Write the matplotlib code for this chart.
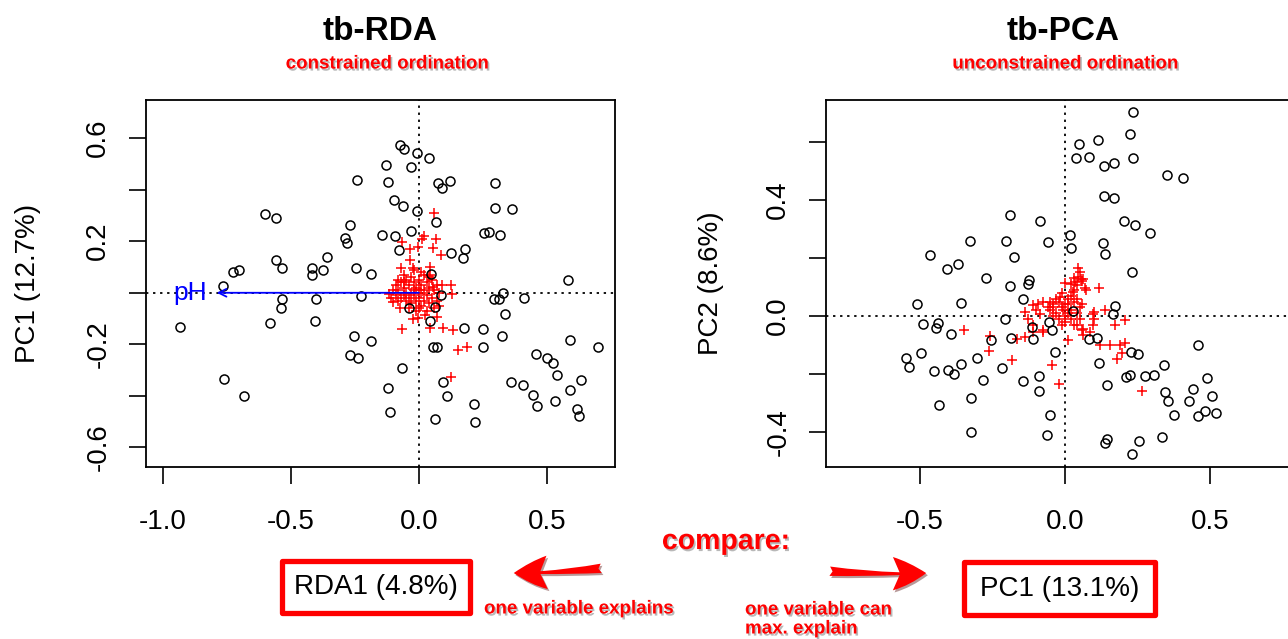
import matplotlib
matplotlib.use("Agg")
import matplotlib.pyplot as plt
import matplotlib.patheffects as pe
from matplotlib.patches import Rectangle, FancyArrowPatch
import numpy as np

plt.rcParams['font.family'] = ['Liberation Sans', 'DejaVu Sans']
plt.rcParams['axes.unicode_minus'] = False

# ---- data ----
rda_sites = [
    (-0.072, 0.574), (-0.057, 0.558), (-0.007, 0.541), (0.038, 0.523), (-0.129, 0.494), (-0.029, 0.487),
    (-0.242, 0.439), (-0.120, 0.429), (0.073, 0.425), (0.120, 0.434), (0.092, 0.405), (0.299, 0.427),
    (-0.099, 0.361), (-0.061, 0.338), (-0.009, 0.317), (0.299, 0.330), (0.363, 0.325), (-0.600, 0.304),
    (-0.557, 0.290), (0.066, 0.273), (-0.268, 0.263), (-0.029, 0.238), (-0.143, 0.225), (-0.094, 0.220),
    (-0.289, 0.214), (-0.280, 0.193), (0.254, 0.232), (0.275, 0.236), (0.316, 0.225), (-0.077, 0.166),
    (0.125, 0.153), (0.181, 0.170), (0.172, 0.135), (-0.557, 0.128), (-0.534, 0.096), (-0.358, 0.140),
    (-0.727, 0.079), (-0.702, 0.088), (-0.417, 0.098), (-0.419, 0.069), (-0.376, 0.088), (-0.246, 0.097),
    (-0.186, 0.071), (0.047, 0.074), (-0.766, 0.027), (0.583, 0.051), (0.086, -0.010), (0.327, -0.001),
    (0.293, -0.025), (0.314, -0.025), (0.411, -0.021), (-0.536, -0.023), (-0.401, -0.025), (-0.227, -0.014),
    (-0.540, -0.060), (-0.040, -0.061), (0.063, -0.056), (-0.934, -0.133), (-0.582, -0.117), (-0.404, -0.108),
    (0.043, -0.110), (0.337, -0.084), (0.177, -0.135), (0.250, -0.142), (0.324, -0.166), (-0.254, -0.166),
    (-0.189, -0.188), (0.056, -0.212), (0.069, -0.212), (0.250, -0.212), (0.591, -0.184), (0.698, -0.211),
    (-0.270, -0.241), (-0.237, -0.255), (0.456, -0.237), (0.500, -0.253), (0.522, -0.273), (0.540, -0.320),
    (-0.066, -0.290), (-0.762, -0.333), (-0.122, -0.368), (0.094, -0.346), (0.361, -0.346), (0.408, -0.358),
    (0.632, -0.338), (0.591, -0.378), (-0.684, -0.399), (0.108, -0.399), (0.445, -0.396), (0.460, -0.440),
    (0.531, -0.421), (0.217, -0.431), (-0.111, -0.461), (0.061, -0.488), (0.219, -0.503), (0.618, -0.452),
    (0.626, -0.478)]

rda_species = [
    (0.060, 0.309), (0.021, 0.220), (0.013, 0.208), (0.065, 0.208), (-0.066, 0.198), (-0.035, 0.170),
    (-0.003, 0.177), (0.056, 0.172), (0.086, 0.145), (-0.035, 0.126), (-0.070, 0.095), (-0.022, 0.095),
    (0.043, 0.101), (0.125, 0.032), (0.128, -0.006), (-0.116, -0.005), (-0.100, -0.035), (-0.065, -0.139),
    (0.096, -0.135), (0.134, -0.145), (0.154, -0.223), (0.186, -0.211), (0.124, -0.326), (0.069, -0.093),
    (0.043, -0.135), (-0.025, -0.102), (-0.003, -0.097), (0.025, -0.087), (-0.074, -0.061),
    (0.043, 0.069), (0.056, 0.023), (-0.09, 0.03), (-0.08, 0.01), (-0.07, 0.04), (-0.06, 0.02),
    (-0.05, 0.05), (-0.04, 0.03), (-0.03, 0.06), (-0.02, 0.04), (-0.01, 0.02), (0.00, 0.05), (0.01, 0.03),
    (0.02, 0.07), (0.03, 0.04), (0.04, 0.02), (0.05, 0.05), (0.06, 0.01), (-0.10, 0.01), (-0.09, -0.01),
    (-0.08, -0.03), (-0.07, -0.02), (-0.06, -0.01), (-0.05, -0.03), (-0.04, -0.02), (-0.03, -0.04),
    (-0.02, -0.01), (-0.01, -0.03), (0.00, -0.02), (0.01, -0.05), (0.02, -0.03), (0.03, -0.01),
    (0.04, -0.04), (0.05, -0.02), (0.07, -0.03), (0.08, 0.00), (0.07, 0.03), (-0.11, -0.02),
    (-0.06, 0.07), (-0.02, 0.09), (0.01, 0.08), (-0.04, -0.06), (0.00, -0.06), (0.03, -0.07),
    (0.06, -0.06), (-0.08, 0.05), (-0.05, 0.00), (-0.02, 0.01), (0.01, 0.00), (0.02, 0.01),
    (-0.03, 0.00), (0.00, 0.01), (-0.06, 0.04), (0.04, 0.06), (-0.01, -0.07), (0.09, 0.03), (0.08, -0.05)]

ph_arrow = (-0.79, 0.0)
ph_label_x = -0.895

pca_sites = [
    (0.235, 0.701), (0.224, 0.628), (0.048, 0.594), (0.115, 0.605), (0.036, 0.543), (0.084, 0.549),
    (0.134, 0.515), (0.170, 0.528), (0.233, 0.544), (0.349, 0.484), (0.404, 0.477), (0.135, 0.414),
    (0.169, 0.408), (-0.190, 0.348), (-0.086, 0.328), (0.202, 0.328), (0.241, 0.314), (0.291, 0.286),
    (0.017, 0.280), (-0.328, 0.257), (-0.204, 0.257), (-0.057, 0.255), (0.130, 0.252), (0.022, 0.233),
    (0.138, 0.213), (-0.466, 0.211), (-0.407, 0.162), (-0.367, 0.180), (-0.174, 0.202), (0.229, 0.152),
    (-0.271, 0.130), (-0.188, 0.102), (-0.123, 0.125), (-0.128, 0.110), (-0.146, 0.060), (-0.509, 0.041),
    (-0.358, 0.044), (0.173, 0.036), (0.166, 0.006), (0.029, 0.018), (-0.208, -0.011), (-0.489, -0.029),
    (-0.437, -0.025), (-0.444, -0.040), (-0.392, -0.061), (-0.112, -0.038), (-0.056, -0.022), (-0.044, -0.049),
    (-0.256, -0.084), (-0.187, -0.076), (-0.109, -0.079), (0.081, -0.079), (0.111, -0.077), (-0.547, -0.143),
    (-0.538, -0.176), (-0.497, -0.126), (-0.452, -0.190), (-0.401, -0.186), (-0.381, -0.201), (-0.357, -0.166),
    (-0.304, -0.145), (-0.217, -0.180), (-0.281, -0.221), (-0.034, -0.125), (-0.143, -0.225), (-0.089, -0.205),
    (-0.088, -0.257), (0.116, -0.163), (0.226, -0.125), (0.252, -0.132), (0.146, -0.236), (0.209, -0.209),
    (0.224, -0.203), (0.275, -0.207), (0.306, -0.203), (0.339, -0.167), (0.458, -0.099), (0.487, -0.213),
    (0.440, -0.251), (0.345, -0.263), (0.353, -0.293), (0.425, -0.292), (0.505, -0.276), (0.375, -0.340),
    (0.458, -0.343), (0.482, -0.326), (0.519, -0.334), (-0.432, -0.305), (-0.325, -0.282), (-0.322, -0.399),
    (-0.052, -0.340), (-0.062, -0.409), (0.146, -0.422), (0.138, -0.437), (0.253, -0.432), (0.335, -0.418),
    (0.229, -0.476)]

pca_species = [
    (0.044, 0.166), (0.055, 0.129), (0.040, 0.106), (0.000, 0.114), (0.118, 0.098), (0.072, 0.089),
    (0.029, 0.083), (-0.017, 0.066), (-0.109, 0.037), (-0.075, 0.048), (-0.138, 0.014), (-0.126, -0.009),
    (-0.040, 0.031), (-0.006, 0.020), (0.138, 0.020), (0.097, 0.008), (0.206, -0.012), (0.172, -0.032),
    (0.063, -0.043), (0.086, -0.055), (0.063, -0.067), (0.011, -0.084), (-0.075, -0.055), (-0.109, -0.055),
    (-0.138, -0.072), (-0.166, -0.078), (0.120, -0.101), (0.155, -0.101), (0.189, -0.101), (0.206, -0.093),
    (0.195, -0.128), (0.178, -0.147), (-0.046, -0.170), (-0.183, -0.153), (-0.347, -0.049), (-0.258, -0.070),
    (-0.260, -0.122), (-0.021, -0.234), (0.264, -0.259), (0.046, 0.134), (0.063, 0.129), (0.034, 0.117),
    (0.069, 0.097), (-0.092, 0.043), (-0.100, 0.020), (-0.086, 0.008), (-0.052, 0.048), (0.100, 0.014),
    (0.100, -0.009), (0.095, -0.032), (0.057, -0.049), (0.040, -0.032), (-0.077, -0.047), (-0.109, -0.032),
    (-0.05, 0.02), (-0.04, 0.04), (-0.03, 0.01), (-0.02, 0.05), (-0.01, 0.03), (0.00, 0.00), (0.01, 0.04),
    (0.02, 0.02), (0.03, 0.05), (0.04, 0.01), (0.05, 0.03), (0.02, 0.07), (0.01, 0.06), (-0.02, -0.01),
    (0.00, -0.02), (0.02, -0.01), (0.03, -0.03), (-0.04, 0.00), (-0.01, 0.08), (0.04, 0.06), (0.05, -0.01),
    (-0.03, 0.06), (0.01, 0.01), (-0.01, -0.03), (0.03, 0.09), (0.06, 0.04), (-0.06, 0.03), (0.00, 0.04),
    (0.02, 0.11), (0.05, 0.15), (0.06, 0.12), (0.03, 0.13)]

rda_xticks = [-1.0, -0.5, 0.0, 0.5]
rda_yticks = [-0.6, -0.4, -0.2, 0.0, 0.2, 0.4, 0.6]
rda_ylabels = ['-0.6', '', '-0.2', '', '0.2', '', '0.6']
pca_xticks = [-0.5, 0.0, 0.5]
pca_yticks = [-0.4, -0.2, 0.0, 0.2, 0.4, 0.6]
pca_ylabels = ['-0.4', '', '0.0', '', '0.4', '']

W, H = 1288, 639
fig = plt.figure(figsize=(W / 100, H / 100), dpi=100)

def px(x, y):
    return x / W, 1 - y / H

def ordi(ax, sites, species, xticks, yticks, ylabels, xlim, ylim):
    s = np.array(sites)
    sp = np.array(species)
    ax.axhline(0, color='black', lw=1.3, dashes=(1.3, 2.6), zorder=1)
    ax.axvline(0, color='black', lw=1.3, dashes=(1.3, 2.6), zorder=1)
    ax.plot(sp[:, 0], sp[:, 1], '+', color='red', ms=6.5, mew=1.1, zorder=3)
    ax.plot(s[:, 0], s[:, 1], 'o', mfc='none', mec='black', ms=6.5, mew=1.1, zorder=4)
    ax.set_xlim(xlim)
    ax.set_ylim(ylim)
    ax.set_xticks(xticks)
    ax.set_xticklabels(['%.1f' % t for t in xticks])
    ax.set_yticks(yticks)
    ax.set_yticklabels(ylabels, rotation=90, va='center')
    ax.tick_params(axis='both', direction='out', length=12, width=1.2, labelsize=20)
    ax.tick_params(axis='x', pad=18)
    ax.tick_params(axis='y', pad=13)
    for sp_ in ax.spines.values():
        sp_.set_linewidth(1.3)

# left: tb-RDA
ax1 = fig.add_axes([146 / W, 1 - 467 / H, 469 / W, 367 / H])
ordi(ax1, rda_sites, rda_species, rda_xticks, rda_yticks, rda_ylabels, (-1.066, 0.766), (-0.676, 0.748))
ax1.annotate('', xy=ph_arrow, xytext=(0, 0),
             arrowprops=dict(arrowstyle='->', color='blue', lw=1.3, shrinkA=0, shrinkB=0,
                             mutation_scale=14), zorder=5)
ax1.text(ph_label_x, ph_arrow[1], 'pH', color='blue', fontsize=19, ha='center', va='center', zorder=5)

# right: tb-PCA (runs off the right edge)
ax2 = fig.add_axes([826 / W, 1 - 467 / H, 490 / W, 367 / H])
ordi(ax2, pca_sites, pca_species, pca_xticks, pca_yticks, pca_ylabels, (-0.822, 0.863), (-0.52, 0.744))

fig.text(*px(28, 283), 'PC1 (12.7%)', rotation=90, fontsize=20, ha='center', va='center')
fig.text(*px(711, 283), 'PC2 (8.6%)', rotation=90, fontsize=20, ha='center', va='center')

# titles
fig.text(*px(380, 32), 'tb-RDA', fontsize=24, fontweight='bold', ha='center', va='center')
fig.text(*px(1063, 32), 'tb-PCA', fontsize=24, fontweight='bold', ha='center', va='center')

shadow = [pe.SimplePatchShadow(offset=(1.2, -1.5), shadow_rgbFace='0.45', alpha=0.5), pe.Normal()]
red = '#ff0000'
fig.text(*px(387, 64), 'constrained ordination', fontsize=13.5, fontweight='bold', color=red,
         ha='center', va='center', path_effects=shadow)
fig.text(*px(1065, 64), 'unconstrained ordination', fontsize=13.5, fontweight='bold', color=red,
         ha='center', va='center', path_effects=shadow)
fig.text(*px(726, 542), 'compare:', fontsize=20.5, fontweight='bold', color=red,
         ha='center', va='center', path_effects=shadow)
fig.text(*px(484, 609), 'one variable explains', fontsize=13.5, fontweight='bold', color=red,
         ha='left', va='center', path_effects=shadow)
fig.text(*px(745, 610), 'one variable can', fontsize=13.5, fontweight='bold', color=red,
         ha='left', va='center', path_effects=shadow)
fig.text(*px(745, 629), 'max. explain', fontsize=13.5, fontweight='bold', color=red,
         ha='left', va='center', path_effects=shadow)

# red boxes with axis names
for (x0, y0, x1, y1, label) in [(282, 561, 470, 613, 'RDA1 (4.8%)'), (964, 562, 1155, 615, 'PC1 (13.1%)')]:
    fx0, fy1 = px(x0, y0)
    fx1, fy0 = px(x1, y1)
    fig.patches.append(Rectangle((fx0, fy0), fx1 - fx0, fy1 - fy0, transform=fig.transFigure,
                                 facecolor='white', edgecolor=red, lw=3.8, joinstyle='round',
                                 path_effects=[pe.SimplePatchShadow(offset=(1, -1), alpha=0.3), pe.Normal()]))
    fig.text((fx0 + fx1) / 2, (fy0 + fy1) / 2, label, fontsize=20, ha='center', va='center')

# red arrows
for tail, tip, rad in [((604, 568), (511, 573), -0.03), ((827, 571), (929, 573), 0.03)]:
    arr = FancyArrowPatch(px(*tail), px(*tip), transform=fig.transFigure,
                          arrowstyle='fancy,head_length=1.6,head_width=1.6,tail_width=0.45',
                          mutation_scale=15, connectionstyle='arc3,rad=%s' % rad,
                          color=red, lw=0,
                          path_effects=[pe.SimplePatchShadow(offset=(1.2, -1.5), alpha=0.4), pe.Normal()])
    fig.patches.append(arr)

fig.savefig('out.png', dpi=100)
